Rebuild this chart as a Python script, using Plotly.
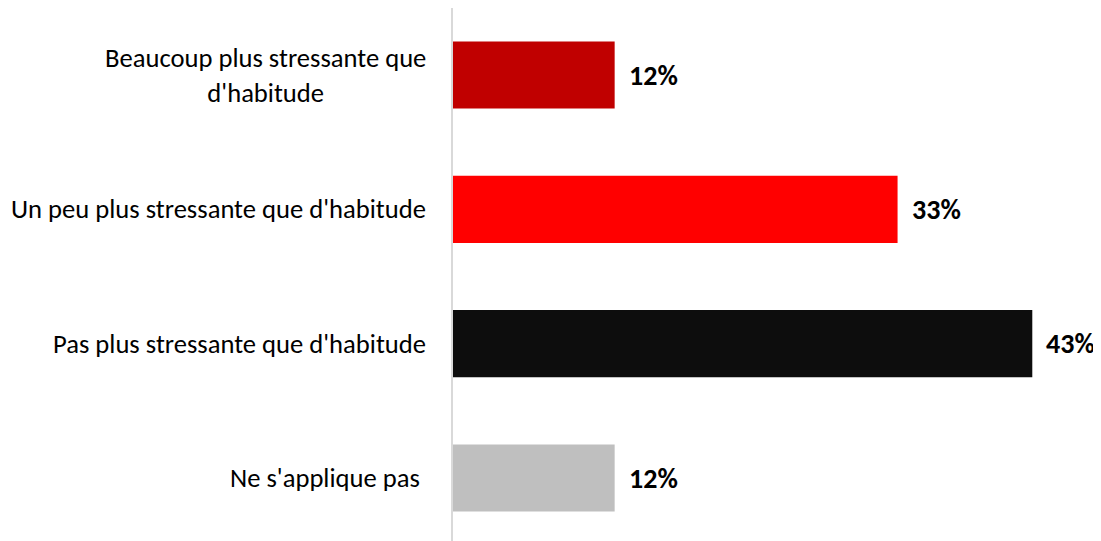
import plotly.graph_objects as go

# data
categories = [
    "Beaucoup plus stressante que<br>d'habitude",
    "Un peu plus stressante que d'habitude",
    "Pas plus stressante que d'habitude",
    "Ne s'applique pas ",
]
values = [12, 33, 43, 12]
colors = ["#c00000", "#ff0000", "#0d0d0d", "#bfbfbf"]

FONT = "Carlito, Lato, 'Open Sans', sans-serif"

fig = go.Figure()
fig.add_trace(go.Bar(
    x=values,
    y=categories,
    orientation="h",
    width=0.5,
    marker=dict(color=colors, line=dict(width=0)),
    hoverinfo="skip",
))

annotations = []
for cat, val in zip(categories, values):
    # value labels to the right of each bar
    annotations.append(dict(
        x=val, y=cat, xref="x", yref="y",
        text=f"<b>{val}%</b>", showarrow=False,
        xanchor="left", xshift=12,
        font=dict(family=FONT, size=28, color="#000000"),
    ))
    # category labels, centred lines like the original
    annotations.append(dict(
        x=0, y=cat, xref="paper", yref="y",
        text=cat, showarrow=False,
        xanchor="right", xshift=-25, align="center",
        font=dict(family=FONT, size=26.6, color="#000000"),
    ))

# page body adds an 8px offset, so the figure is a bit smaller than the window
fig.update_layout(
    width=1093,
    height=533,
    margin=dict(l=445, r=0, t=0, b=0),
    paper_bgcolor="white",
    plot_bgcolor="white",
    showlegend=False,
    annotations=annotations,
    xaxis=dict(range=[0, 48.1], visible=False, fixedrange=True),
    yaxis=dict(
        categoryorder="array", categoryarray=categories,
        range=[3.469, -0.499],
        showticklabels=False, ticks="",
        showgrid=False, zeroline=False,
        showline=True, linecolor="#d9d9d9", linewidth=2,
        fixedrange=True,
    ),
)

fig.write_html("out.html")
